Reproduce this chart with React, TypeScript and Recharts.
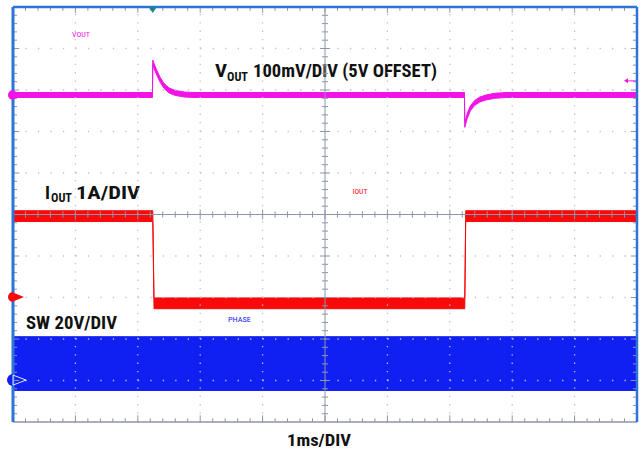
import React from 'react';
import { ComposedChart, Area, XAxis, YAxis, ReferenceLine, ReferenceDot, Customized } from 'recharts';

// time base 1ms/DIV, t = ms from the left edge of the screen
const voutTime = [0, 2.235, 2.24, 2.27, 2.31, 2.36, 2.42, 2.5, 2.6, 2.75, 2.9, 7.235, 7.24, 7.28, 7.33, 7.4, 7.48, 7.58, 7.72, 7.9, 10];
const voutMv = [0, 0, 78, 66, 52, 36, 22, 11, 5, 1, 0, 0, -72, -50, -32, -19, -11, -6, -2, 0, 0];
const voutNoiseMv = 6;

const ioutTime = [0, 2.24, 2.26, 7.24, 7.255, 10];
const ioutAmps = [1.95, 1.95, -0.15, -0.15, 1.95, 1.95];
const ioutNoiseA = 0.13;

const swTime = [0, 10];
const swLowV = [-5.0, -5.0];
const swHighV = [20.9, 20.9];

const triggerTime = 2.24;
const triggerLevelMv = 34;

// channel ground markers, in screen divisions from the bottom
const VOUT_ZERO_DIV = 7.88;
const IOUT_ZERO_DIV = 3.01;
const SW_ZERO_DIV = 1.01;

const MAGENTA = '#f214e6';
const RED = '#f80a0a';
const BLUE = '#1020f2';
const FRAME = '#2e74d8';
const AXIS = '#8d95aa';
const DOTS = '#bcc2cd';

const voutData = voutTime.map((t, i) => ({ t, band: [voutMv[i] - voutNoiseMv, voutMv[i] + voutNoiseMv] }));
const ioutData = ioutTime.map((t, i) => ({ t, band: [ioutAmps[i] - ioutNoiseA, ioutAmps[i] + ioutNoiseA] }));
const swData = swTime.map((t, i) => ({ t, band: [swLowV[i], swHighV[i]] }));

const majors = [1, 2, 3, 4, 6, 7, 8, 9];
const minors = Array.from({ length: 49 }, (_, i) => (i + 1) / 5);
const isMajor = (m: number) => Math.abs(m - Math.round(m)) < 1e-6;

const TriggerMark = ({ cx, cy }: any) => (
    <polygon points={`${cx - 4},${cy} ${cx + 4},${cy} ${cx},${cy + 6}`} fill="#17868c" />
);

const GroundMark = (color: string) => ({ cx, cy }: any) => (
    <g>
        <path d={`M${cx},${cy - 5} A5,5 0 0 0 ${cx},${cy + 5} Z`} fill={color} />
        <polygon points={`${cx},${cy - 4.5} ${cx + 11},${cy} ${cx},${cy + 4.5}`} fill={color} />
    </g>
);

const SwMark = ({ cx, cy }: any) => (
    <g>
        <path d={`M${cx},${cy - 6} A6,6 0 0 0 ${cx},${cy + 6} Z`} fill={BLUE} />
        <polygon points={`${cx},${cy - 5} ${cx + 13},${cy} ${cx},${cy + 5}`} fill="none" stroke="#dfe6ff" strokeWidth={1} />
    </g>
);

const LevelMark = ({ cx, cy }: any) => (
    <g>
        <line x1={cx - 11} y1={cy} x2={cx - 1} y2={cy} stroke={MAGENTA} strokeWidth={1} />
        <polygon points={`${cx - 13},${cy} ${cx - 9},${cy - 2.5} ${cx - 9},${cy + 2.5}`} fill={MAGENTA} />
    </g>
);

const Labels = () => (
    <g fontFamily="'Roboto Condensed', 'Liberation Sans', sans-serif">
        <g fontWeight="bold" fill="#111">
            <text x={215} y={77} fontSize={18} textLength={12} lengthAdjust="spacingAndGlyphs">V</text>
            <text x={227} y={81} fontSize={12.5} textLength={21} lengthAdjust="spacingAndGlyphs">OUT</text>
            <text x={253} y={77} fontSize={18} textLength={184} lengthAdjust="spacingAndGlyphs">100mV/DIV (5V OFFSET)</text>
            <text x={45} y={199} fontSize={18} textLength={5} lengthAdjust="spacingAndGlyphs">I</text>
            <text x={51} y={202} fontSize={12.5} textLength={21} lengthAdjust="spacingAndGlyphs">OUT</text>
            <text x={76} y={199} fontSize={18} textLength={64} lengthAdjust="spacingAndGlyphs">1A/DIV</text>
            <text x={26} y={329} fontSize={18.5} textLength={91} lengthAdjust="spacingAndGlyphs">SW 20V/DIV</text>
            <text x={287} y={446} fontSize={17} textLength={64} lengthAdjust="spacingAndGlyphs">1ms/DIV</text>
        </g>
        <text x={72} y={36.5} fontSize={7.5} fill={MAGENTA} textLength={18} lengthAdjust="spacingAndGlyphs">VOUT</text>
        <text x={352.5} y={194} fontSize={7.5} fill={RED} textLength={15} lengthAdjust="spacingAndGlyphs">IOUT</text>
        <text x={228} y={322} fontSize={7.5} fill={BLUE} textLength={23} lengthAdjust="spacingAndGlyphs">PHASE</text>
    </g>
);

const App: React.FC = () => (
    <div style={{ position: 'absolute', left: 0, top: 0, width: 641, height: 450, background: '#fff' }}>
        <ComposedChart width={641} height={450} margin={{ top: 7, right: 4, bottom: 28, left: 13 }}>
            <XAxis type="number" dataKey="t" domain={[0, 10]} allowDataOverflow hide />
            <YAxis yAxisId="div" type="number" domain={[0, 10]} allowDataOverflow hide />
            <YAxis yAxisId="v" type="number" domain={[-VOUT_ZERO_DIV * 100, (10 - VOUT_ZERO_DIV) * 100]} allowDataOverflow hide />
            <YAxis yAxisId="i" type="number" domain={[-IOUT_ZERO_DIV, 10 - IOUT_ZERO_DIV]} allowDataOverflow hide />
            <YAxis yAxisId="sw" type="number" domain={[-SW_ZERO_DIV * 20, (10 - SW_ZERO_DIV) * 20]} allowDataOverflow hide />

            <Area data={swData} dataKey="band" yAxisId="sw" type="linear" stroke={BLUE} strokeWidth={1} fill={BLUE} fillOpacity={1} isAnimationActive={false} dot={false} activeDot={false} />
            <Area data={ioutData} dataKey="band" yAxisId="i" type="linear" stroke={RED} strokeWidth={1} fill={RED} fillOpacity={1} isAnimationActive={false} dot={false} activeDot={false} />
            <Area data={voutData} dataKey="band" yAxisId="v" type="linear" stroke={MAGENTA} strokeWidth={1} fill={MAGENTA} fillOpacity={1} isAnimationActive={false} dot={false} activeDot={false} />

            {majors.map(m => (
                <ReferenceLine key={`gx${m}`} yAxisId="div" x={m} stroke={DOTS} strokeWidth={1.3} strokeDasharray="1.3 7" />
            ))}
            {majors.map(m => (
                <ReferenceLine key={`gy${m}`} yAxisId="div" y={m} stroke={DOTS} strokeWidth={1.3} strokeDasharray="1.3 11.18" />
            ))}
            <ReferenceLine yAxisId="div" x={5} stroke={AXIS} strokeWidth={1} />
            <ReferenceLine yAxisId="div" y={5} stroke={AXIS} strokeWidth={1} />

            {minors.map(m => {
                const big = isMajor(m);
                return (
                    <React.Fragment key={`t${m}`}>
                        <ReferenceLine yAxisId="div" stroke={AXIS} segment={[{ x: m, y: 5 - (big ? 0.12 : 0.075) }, { x: m, y: 5 + (big ? 0.12 : 0.075) }]} />
                        <ReferenceLine yAxisId="div" stroke={AXIS} segment={[{ x: 5 - (big ? 0.08 : 0.05), y: m }, { x: 5 + (big ? 0.08 : 0.05), y: m }]} />
                        <ReferenceLine yAxisId="div" stroke={AXIS} segment={[{ x: m, y: 10 }, { x: m, y: 10 - (big ? 0.14 : 0.09) }]} />
                        <ReferenceLine yAxisId="div" stroke={AXIS} segment={[{ x: m, y: 0 }, { x: m, y: big ? 0.16 : 0.09 }]} />
                        <ReferenceLine yAxisId="div" stroke={AXIS} segment={[{ x: 0, y: m }, { x: big ? 0.1 : 0.065, y: m }]} />
                        <ReferenceLine yAxisId="div" stroke={AXIS} segment={[{ x: 10, y: m }, { x: 10 - (big ? 0.1 : 0.065), y: m }]} />
                    </React.Fragment>
                );
            })}

            <ReferenceLine yAxisId="div" y={0} stroke={AXIS} strokeWidth={1.5} />
            <ReferenceLine yAxisId="div" y={10} stroke={FRAME} strokeWidth={2.5} />
            <ReferenceLine yAxisId="div" x={0} stroke={FRAME} strokeWidth={3} />
            <ReferenceLine yAxisId="div" x={10} stroke={FRAME} strokeWidth={2.5} />

            <ReferenceDot yAxisId="div" x={triggerTime} y={10} shape={TriggerMark} />
            <ReferenceDot yAxisId="v" x={0} y={0} shape={GroundMark(MAGENTA)} />
            <ReferenceDot yAxisId="i" x={0} y={0} shape={GroundMark(RED)} />
            <ReferenceDot yAxisId="sw" x={0} y={0} shape={SwMark} />
            <ReferenceDot yAxisId="v" x={10} y={triggerLevelMv} shape={LevelMark} />

            <Customized component={Labels} />
        </ComposedChart>
    </div>
);

export default App;
